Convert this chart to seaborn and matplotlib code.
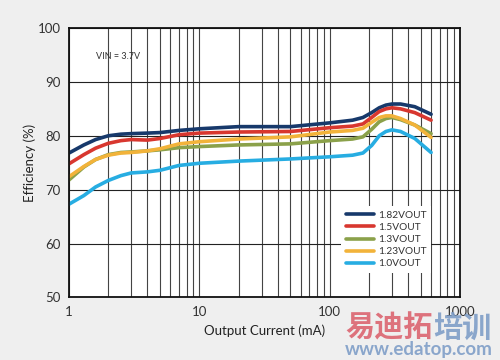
import numpy as np
import pandas as pd
import matplotlib
matplotlib.use("Agg")
import matplotlib.pyplot as plt
import seaborn as sns
from matplotlib.ticker import LogLocator, FixedLocator, NullFormatter

# --- data ---
current_ma = [1, 1.3, 1.6, 2, 2.5, 3, 4, 5, 7, 10, 20, 50, 100, 150, 180, 210, 240, 270, 300, 350, 450, 600]
eff_182 = [76.8, 78.3, 79.3, 80.0, 80.3, 80.4, 80.5, 80.6, 81.0, 81.3, 81.7, 81.7, 82.4, 82.9, 83.4, 84.3, 85.2, 85.7, 85.9, 85.9, 85.4, 84.0]
eff_150 = [74.8, 76.5, 77.7, 78.6, 79.1, 79.3, 79.2, 79.5, 80.2, 80.5, 80.7, 80.8, 81.5, 81.8, 82.2, 83.4, 84.5, 85.0, 85.2, 85.0, 84.3, 82.9]
eff_130 = [71.8, 74.2, 75.6, 76.5, 76.9, 77.0, 77.2, 77.4, 77.8, 78.0, 78.3, 78.5, 79.1, 79.4, 79.8, 81.2, 82.6, 83.2, 83.4, 83.0, 82.0, 80.4]
eff_123 = [72.4, 74.3, 75.6, 76.4, 76.8, 76.9, 77.2, 77.6, 78.5, 78.9, 79.4, 79.8, 80.7, 81.0, 81.4, 82.5, 83.4, 83.7, 83.7, 83.2, 82.0, 79.7]
eff_100 = [67.3, 68.9, 70.5, 71.7, 72.6, 73.1, 73.3, 73.6, 74.5, 74.9, 75.3, 75.7, 76.1, 76.4, 76.8, 78.2, 80.0, 80.8, 81.1, 80.8, 79.5, 76.9]

series_names = ["1.82VOUT", "1.5VOUT", "1.3VOUT", "1.23VOUT", "1.0VOUT"]
series_vals = [eff_182, eff_150, eff_130, eff_123, eff_100]
colors = ["#17396b", "#d8372f", "#8ba14a", "#f2b33a", "#27ade2"]

rows = []
for name, vals in zip(series_names, series_vals):
    for x, y in zip(current_ma, vals):
        rows.append({"current": x, "eff": y, "series": name})
df = pd.DataFrame(rows)

sns.set_style("white")
plt.rcParams["font.family"] = ["Lato", "Noto Sans CJK SC", "DejaVu Sans"]

fig = plt.figure(figsize=(5, 3.6), dpi=100, facecolor="#efefef")
ax = fig.add_axes([0.138, 0.174, 0.782, 0.748])
ax.set_facecolor("white")

sns.lineplot(data=df, x="current", y="eff", hue="series", hue_order=series_names,
             palette=colors, linewidth=2.6, ax=ax, legend=False,
             solid_capstyle="round", solid_joinstyle="round")

ax.set_xscale("log")
ax.set_xlim(1, 1000)
ax.set_ylim(50, 100)
ax.set_yticks([50, 60, 70, 80, 90, 100])
ax.xaxis.set_major_locator(FixedLocator([1, 10, 100, 1000]))
ax.set_xticklabels(["1", "10", "100", "1000"])
ax.xaxis.set_minor_locator(LogLocator(base=10, subs=np.arange(2, 10)))
ax.xaxis.set_minor_formatter(NullFormatter())
ax.grid(which="both", axis="x", color="#444444", linewidth=0.8)
ax.grid(which="major", axis="y", color="#222222", linewidth=0.8)
ax.set_axisbelow(True)
ax.tick_params(which="both", length=0, labelsize=9.5, colors="#333333", pad=6)
for s in ax.spines.values():
    s.set_color("#111111")
    s.set_linewidth(1.3)

ax.set_xlabel("Output Current (mA)", fontsize=9.5, color="#222222", labelpad=5)
ax.set_ylabel("Efficiency (%)", fontsize=9.5, color="#222222", labelpad=1)

ax.text(0.068, 0.885, "VIN = 3.7V", transform=ax.transAxes, fontsize=6.5, color="#333333")

handles = [plt.Line2D([], [], color=c, linewidth=2.6) for c in colors]
leg = ax.legend(handles, series_names, loc="lower right", bbox_to_anchor=(0.94, 0.07),
                fontsize=7.3, frameon=True, facecolor="white", edgecolor="none",
                framealpha=1, fancybox=False, handlelength=2.7, handletextpad=0.4,
                labelspacing=0.3, borderpad=0.5)
for t in leg.get_texts():
    t.set_color("#333333")

# watermark
fig.text(0.69, 0.065, "易迪拓", fontsize=21, color="#dc6470", fontweight="bold", alpha=0.9)
fig.text(0.866, 0.065, "培训", fontsize=21, color="#7f9ec8", fontweight="bold", alpha=0.9)
fig.text(0.69, 0.014, "www.edatop.com", fontsize=13.5, color="#7f9ec8", fontweight="bold", alpha=0.9)

fig.savefig("out.png", dpi=100, facecolor=fig.get_facecolor())
